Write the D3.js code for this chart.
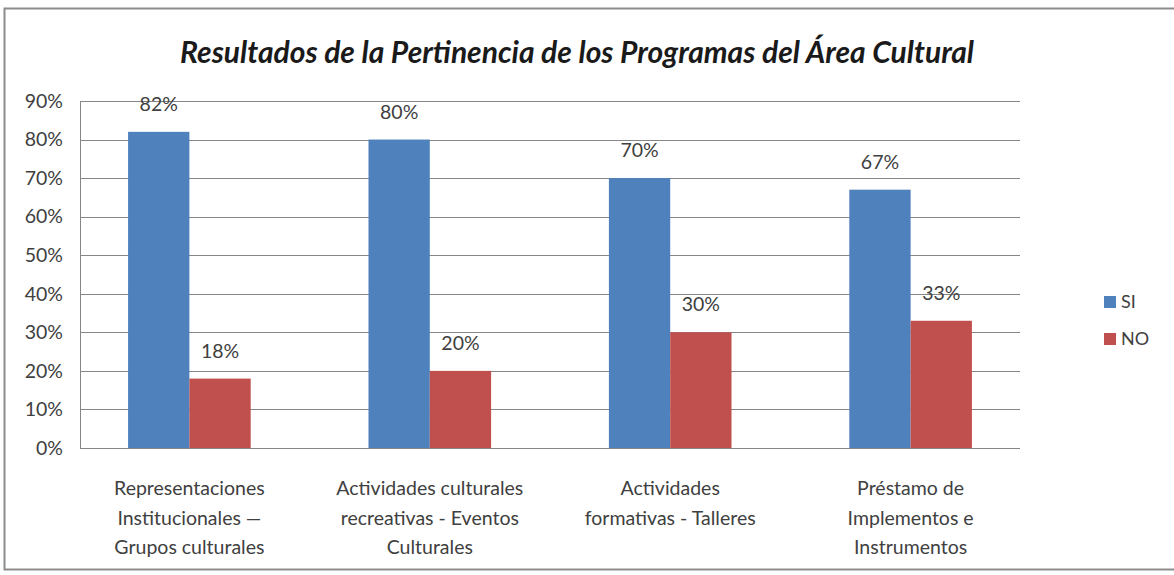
<!DOCTYPE html>
<html>
<head>
<meta charset="utf-8">
<script src="https://cdn.jsdelivr.net/npm/d3@7"></script>
<style>
  body { margin: 0; background: #fff; }
  svg text { font-family: Lato, "Open Sans", sans-serif; fill: #404040; }
</style>
</head>
<body>
<div id="chart"></div>
<script>
var categories = [
  ["Representaciones", "Institucionales —", "Grupos culturales"],
  ["Actividades culturales", "recreativas - Eventos", "Culturales"],
  ["Actividades", "formativas - Talleres"],
  ["Préstamo de", "Implementos e", "Instrumentos"]
];
var seriesNames = ["SI", "NO"];
var siValues = [82, 80, 70, 67];
var noValues = [18, 20, 30, 33];
var yTicks = [0, 10, 20, 30, 40, 50, 60, 70, 80, 90];
var colors = ["#4F81BD", "#C0504D"];

var width = 1174, height = 575;
var margin = { left: 80, right: 154, top: 101, bottom: 127 };

var svg = d3.select("#chart").append("svg")
    .attr("width", width)
    .attr("height", height);

// outer chart frame
svg.append("rect")
    .attr("x", 4.5).attr("y", 8.5)
    .attr("width", 1180).attr("height", 561)
    .attr("fill", "#fff")
    .attr("stroke", "#8c8c8c")
    .attr("stroke-width", 2);

var x = d3.scaleBand()
    .domain(d3.range(categories.length))
    .range([margin.left, width - margin.right])
    .paddingInner(0.49)
    .paddingOuter(0.2);

var x1 = d3.scaleBand()
    .domain(seriesNames)
    .range([0, x.bandwidth()]);

var y = d3.scaleLinear()
    .domain([0, 90])
    .range([height - margin.bottom, margin.top]);

// gridlines
svg.append("g")
    .selectAll("line")
    .data(yTicks)
    .enter().append("line")
    .attr("x1", margin.left)
    .attr("x2", width - margin.right)
    .attr("y1", function(d) { return Math.round(y(d)) + 0.5; })
    .attr("y2", function(d) { return Math.round(y(d)) + 0.5; })
    .attr("stroke", "#868686")
    .attr("stroke-width", 1);

// y axis line
svg.append("line")
    .attr("x1", margin.left + 0.5).attr("x2", margin.left + 0.5)
    .attr("y1", y(90)).attr("y2", y(0))
    .attr("stroke", "#868686");

// y tick labels
svg.append("g")
    .selectAll("text")
    .data(yTicks)
    .enter().append("text")
    .attr("x", margin.left - 17)
    .attr("y", function(d) { return y(d); })
    .attr("dy", "0.35em")
    .attr("text-anchor", "end")
    .style("font-size", "19.5px")
    .text(function(d) { return d + "%"; });

var rows = categories.map(function(c, i) {
  return { i: i, vals: [siValues[i], noValues[i]] };
});

var group = svg.selectAll(".grp")
    .data(rows)
    .enter().append("g")
    .attr("class", "grp")
    .attr("transform", function(d) { return "translate(" + x(d.i) + ",0)"; });

group.selectAll("rect")
    .data(function(d) { return d.vals.map(function(v, k) { return { k: k, v: v }; }); })
    .enter().append("rect")
    .attr("x", function(d) { return x1(seriesNames[d.k]); })
    .attr("width", x1.bandwidth())
    .attr("y", function(d) { return y(d.v); })
    .attr("height", function(d) { return y(0) - y(d.v); })
    .attr("fill", function(d) { return colors[d.k]; });

group.selectAll(".val")
    .data(function(d) { return d.vals.map(function(v, k) { return { k: k, v: v }; }); })
    .enter().append("text")
    .attr("class", "val")
    .attr("x", function(d) { return x1(seriesNames[d.k]) + x1.bandwidth() / 2; })
    .attr("y", function(d) { return y(d.v) - 21; })
    .attr("text-anchor", "middle")
    .style("font-size", "19.5px")
    .text(function(d) { return d.v + "%"; });

// category labels
group.append("text")
    .attr("x", x.bandwidth() / 2)
    .attr("y", y(0) + 47)
    .attr("text-anchor", "middle")
    .style("font-size", "19.5px")
    .selectAll("tspan")
    .data(function(d) { return categories[d.i]; })
    .enter().append("tspan")
    .attr("x", x.bandwidth() / 2)
    .attr("dy", function(d, k) { return k === 0 ? 0 : 29.5; })
    .text(function(d) { return d; });

// title
svg.append("text")
    .attr("x", 577)
    .attr("y", 63)
    .attr("text-anchor", "middle")
    .style("font-size", "30px")
    .style("font-weight", "bold")
    .style("font-style", "italic")
    .style("fill", "#1a1a1a")
    .text("Resultados de la Pertinencia de los Programas del Área Cultural");

// legend
var legend = svg.selectAll(".leg")
    .data(seriesNames)
    .enter().append("g")
    .attr("class", "leg")
    .attr("transform", function(d, i) { return "translate(1104," + (296 + i * 37) + ")"; });

legend.append("rect")
    .attr("width", 12).attr("height", 12)
    .attr("fill", function(d, i) { return colors[i]; });

legend.append("text")
    .attr("x", 17)
    .attr("y", 6)
    .attr("dy", "0.35em")
    .style("font-size", "18px")
    .text(function(d) { return d; });
</script>
</body>
</html>
